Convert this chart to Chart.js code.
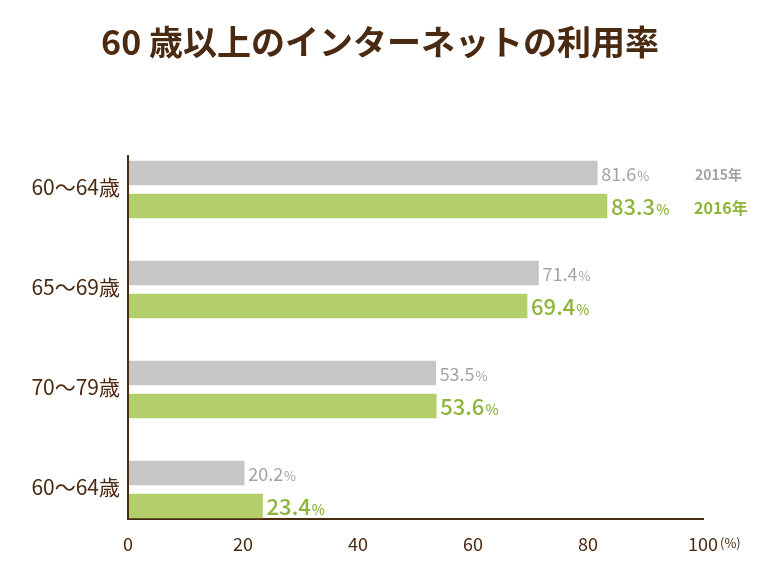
<!DOCTYPE html>
<html><head><meta charset="utf-8">
<script src="https://cdn.jsdelivr.net/npm/chart.js@4"></script>
<style>body{margin:0;background:#fff}#c{display:block}</style>
</head><body>
<div style="width:760px;height:570px"><canvas id="c"></canvas></div>
<script>
const categories = ['60～64歳', '65～69歳', '70～79歳', '60～64歳'];
const series2015 = [81.6, 71.4, 53.5, 20.2];
const series2016 = [83.3, 69.4, 53.6, 23.4];
const seriesNames = ['2015年', '2016年'];
const xTicks = [0, 20, 40, 60, 80, 100];

const BROWN = '#4b2a12';
const GRAY = '#c6c6c6', GRAY_T = '#a3a3a3';
const GREEN = '#b2cf6b', GREEN_T = '#8cb53a';
const FONT = "'Noto Sans CJK JP', 'Noto Sans', sans-serif";

const extras = {
  id: 'extras',
  afterDraw(chart) {
    const ctx = chart.ctx, x = chart.scales.x, y = chart.scales.y;
    ctx.save();
    ctx.fillStyle = BROWN;
    ctx.font = `bold 34px ${FONT}`;
    ctx.textAlign = 'center'; ctx.textBaseline = 'middle';
    ctx.fillText('60 歳以上のインターネットの利用率', 380, 42);

    ctx.strokeStyle = BROWN; ctx.lineWidth = 2;
    ctx.beginPath(); ctx.moveTo(x.left, 155); ctx.lineTo(x.left, y.bottom); ctx.stroke();

    ctx.font = `21px ${FONT}`; ctx.textAlign = 'right';
    categories.forEach((c, i) => ctx.fillText(c, 120, y.getPixelForValue(i) - 2));

    ctx.font = `13px ${FONT}`; ctx.textAlign = 'left';
    ctx.fillText('(%)', 720, y.bottom + 24);

    const label = (ds, big) => {
      const meta = chart.getDatasetMeta(ds);
      meta.data.forEach((bar, i) => {
        const v = chart.data.datasets[ds].data[i].x.toFixed(1);
        const px = bar.x + 4, py = bar.y + 1;
        ctx.fillStyle = big ? GREEN_T : GRAY_T;
        ctx.font = `${big ? '500 22' : '18'}px ${FONT}`;
        ctx.fillText(v, px, py);
        const w = ctx.measureText(v).width;
        ctx.font = `${big ? '500 14' : '13'}px ${FONT}`;
        ctx.fillText('%', px + w + 1, py + (big ? 3 : 2));
      });
    };
    label(0, false); label(1, true);

    ctx.font = `bold 14px ${FONT}`; ctx.fillStyle = GRAY_T;
    ctx.fillText(seriesNames[0], 695, 175);
    ctx.font = `bold 16px ${FONT}`; ctx.fillStyle = GREEN_T;
    ctx.fillText(seriesNames[1], 694, 208);
    ctx.restore();
  }
};

new Chart(document.getElementById('c'), {
  type: 'bar',
  data: {
    datasets: [
      { label: seriesNames[0], data: series2015.map((v, i) => ({ x: v, y: i - 0.165 })), backgroundColor: GRAY },
      { label: seriesNames[1], data: series2016.map((v, i) => ({ x: v, y: i + 0.165 })), backgroundColor: GREEN }
    ]
  },
  options: {
    indexAxis: 'y',
    responsive: true, maintainAspectRatio: false, animation: false,
    grouped: false, barThickness: 24,
    layout: { padding: { top: 139.5, left: 128, right: 57, bottom: 11 } },
    plugins: { legend: { display: false }, tooltip: { enabled: false } },
    scales: {
      x: {
        type: 'linear', min: 0, max: 100,
        afterFit: s => { s.height = 40; },
        afterBuildTicks: s => { s.ticks = xTicks.map(v => ({ value: v })); },
        grid: { display: false },
        border: { color: BROWN, width: 2 },
        ticks: { color: BROWN, font: { size: 18, family: FONT }, padding: 6 }
      },
      y: {
        type: 'linear', reverse: true, min: -0.5, max: 3.295, offset: false,
        display: false
      }
    }
  },
  plugins: [extras]
});
</script>
</body></html>
